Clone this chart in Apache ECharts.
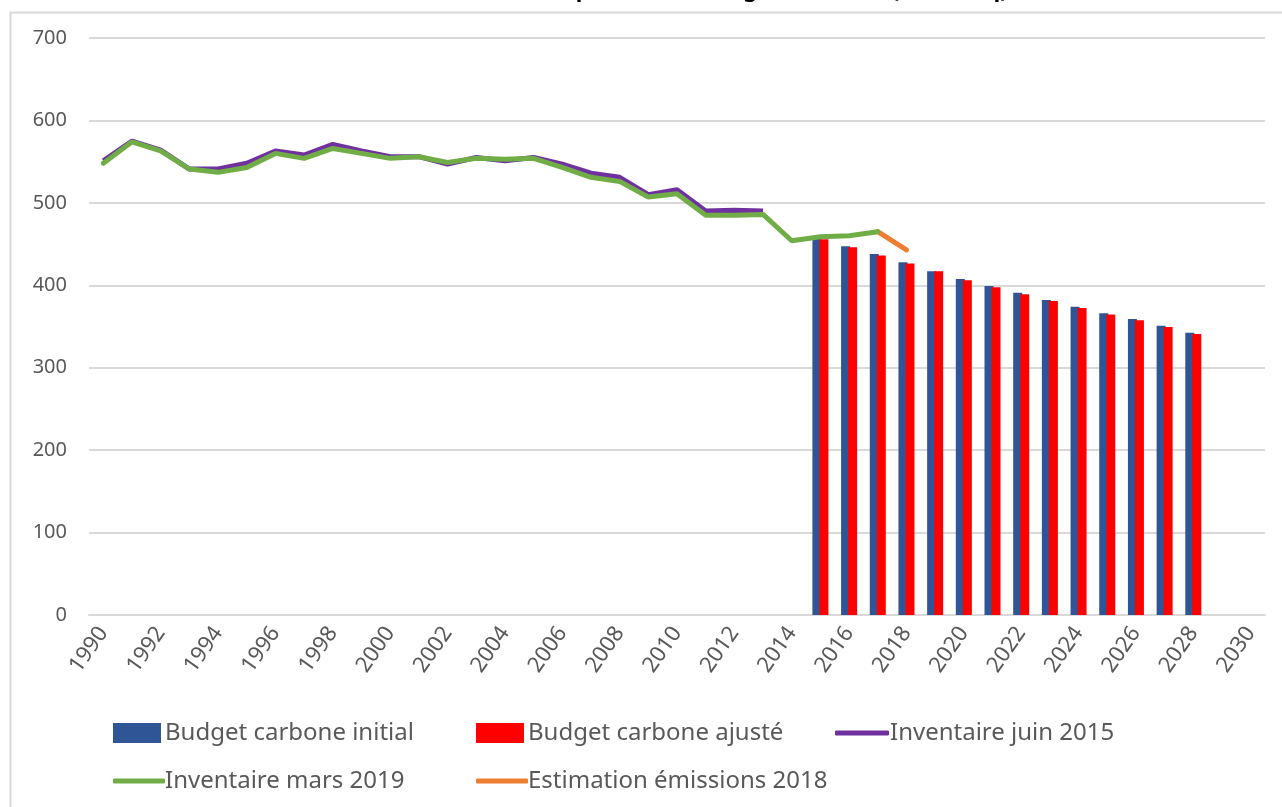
<!DOCTYPE html>
<html>
<head>
<meta charset="utf-8">
<script src="https://cdn.jsdelivr.net/npm/echarts@6/dist/echarts.min.js"></script>
<style>html,body{margin:0;padding:0;background:#fff}#c{width:1282px;height:807px}</style>
</head>
<body>
<div id="c"></div>
<script>
const years = [];
for (let y = 1990; y <= 2030; y++) years.push(String(y));

const titleText = "Émissions de GES comparées aux budgets carbone (MtCO2eq)";

// Inventaire juin 2015 (1990-2013)
const invJuin2015 = [551, 575, 564, 541, 541, 548, 563, 558, 571, 563, 556, 556, 547, 555, 551, 555, 547, 536, 531, 510, 516, 490, 491, 490];
// Inventaire mars 2019 (1990-2017)
const invMars2019 = [548, 574, 563, 541, 537, 543, 560, 554, 566, 560, 554, 556, 549, 554, 553, 554, 543, 531, 526, 507, 511, 485, 485, 486, 454, 459, 460, 465];
// Estimation émissions 2018 (2017-2018)
const estimYears = ["2017", "2018"];
const estimValues = [465, 443];
// Budgets carbone (2015-2028)
const budgetYears = ["2015","2016","2017","2018","2019","2020","2021","2022","2023","2024","2025","2026","2027","2028"];
const budgetInitial = [457, 447.5, 438, 428, 417, 407.5, 399, 391, 382, 374, 366, 359, 351, 342.5];
const budgetAjuste = [456, 446, 436, 426.5, 417, 406, 397.5, 389, 381, 372.5, 364.5, 357.5, 349.5, 341];
const yTicks = [0, 100, 200, 300, 400, 500, 600, 700];

function toSeries(xs, vs) {
  const m = {};
  xs.forEach((x, i) => m[x] = vs[i]);
  return years.map(y => (y in m ? m[y] : null));
}
function fromStart(vs) {
  return years.map((y, i) => (i < vs.length ? vs[i] : null));
}

const txt = '#595959';
const font = 'Noto Sans';

function lg(name, left, top, icon, w, h, pad) {
  return {
    data: [{ name: name, icon: icon }],
    left: left, top: top, padding: 0,
    itemWidth: w, itemHeight: h, itemGap: 0,
    textStyle: { color: txt, fontSize: 24, fontFamily: font, padding: [0, 0, 0, pad] },
    selectedMode: false
  };
}

const chart = echarts.init(document.getElementById('c'), null, { renderer: 'canvas' });
chart.setOption({
  animation: false,
  backgroundColor: '#fff',
  graphic: [
    { type: 'rect', shape: { x: 10.5, y: 12.5, width: 1400, height: 1000 }, style: { fill: 'none', stroke: '#d9d9d9', lineWidth: 2 }, z: -1 },
    { type: 'text', x: 672, y: 2, style: { text: titleText, fill: '#000', font: 'bold 22px "Noto Sans"', textAlign: 'center', textVerticalAlign: 'bottom' } }
  ],
  grid: { left: 89, right: 17, top: 38, bottom: 192, containLabel: false },
  legend: [
    lg('Budget carbone initial', 113, 721, 'rect', 48, 20, -1),
    lg('Budget carbone ajusté', 476, 721, 'rect', 48, 20, -1),
    lg('Inventaire juin 2015', 835, 721, 'roundRect', 54, 5, -4),
    lg('Inventaire mars 2019', 113, 769, 'roundRect', 52, 5, -5),
    lg('Estimation émissions 2018', 476, 769, 'roundRect', 52, 5, -5)
  ],
  xAxis: {
    type: 'category',
    data: years,
    boundaryGap: true,
    axisLine: { lineStyle: { color: '#d9d9d9', width: 2 } },
    axisTick: { show: false },
    axisLabel: { interval: 1, rotate: 55, color: txt, fontSize: 22, fontFamily: font, margin: 14 }
  },
  yAxis: {
    type: 'value', min: 0, max: 700, interval: 100,
    axisLine: { show: false }, axisTick: { show: false },
    axisLabel: { color: txt, fontSize: 20, fontFamily: font, margin: 22, formatter: v => yTicks.includes(v) ? String(v) : '' },
    splitLine: { lineStyle: { color: '#d9d9d9', width: 2 } }
  },
  series: [
    { name: 'Budget carbone initial', type: 'bar', data: toSeries(budgetYears, budgetInitial), barWidth: 9, barGap: '-22%', itemStyle: { color: '#2f5597' }, z: 2 },
    { name: 'Budget carbone ajusté', type: 'bar', data: toSeries(budgetYears, budgetAjuste), barWidth: 9, itemStyle: { color: '#ff0000' }, z: 2 },
    { name: 'Inventaire juin 2015', type: 'line', data: fromStart(invJuin2015), showSymbol: false, symbol: 'none', lineStyle: { color: '#7030a0', width: 5 }, itemStyle: { color: '#7030a0' }, z: 3 },
    { name: 'Estimation émissions 2018', type: 'line', data: toSeries(estimYears, estimValues), showSymbol: false, symbol: 'none', lineStyle: { color: '#ed7d31', width: 5, cap: 'round' }, itemStyle: { color: '#ed7d31' }, z: 4 },
    { name: 'Inventaire mars 2019', type: 'line', data: fromStart(invMars2019), showSymbol: false, symbol: 'none', lineStyle: { color: '#70ad47', width: 5, cap: 'round' }, itemStyle: { color: '#70ad47' }, z: 5 }
  ]
});
</script>
</body>
</html>
